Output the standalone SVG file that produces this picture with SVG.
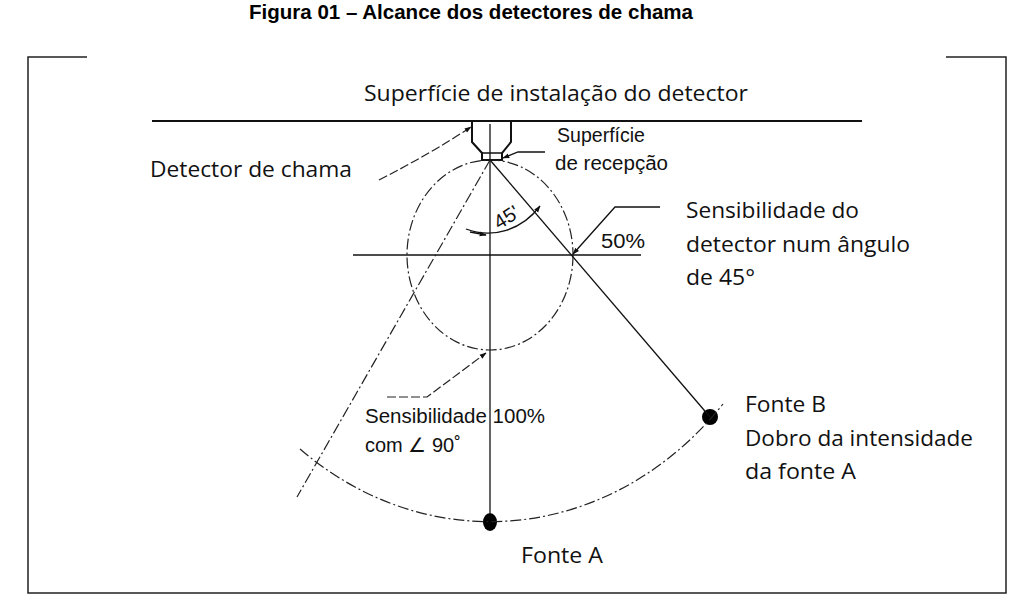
<svg xmlns="http://www.w3.org/2000/svg" width="1019" height="604" viewBox="0 0 1019 604">
<style>
.cal{font-family:"Open Sans","Noto Sans","DejaVu Sans",sans-serif;font-size:21px;fill:#111}
.hel{font-family:"Liberation Sans",Arial,sans-serif;font-size:20px;fill:#111}
.ttl{font-family:"Liberation Sans",Arial,sans-serif;font-size:19.5px;font-weight:bold;fill:#000}
.ln{fill:none;stroke:#111;stroke-width:1.3}
.dd{fill:none;stroke:#222;stroke-width:1.2;stroke-dasharray:11 3 2 3}
.ds{fill:none;stroke:#222;stroke-width:1.2;stroke-dasharray:9 3}
</style>
<defs>
<marker id="ah" viewBox="0 0 10 10" refX="9" refY="5" markerWidth="7" markerHeight="7" orient="auto-start-reverse" markerUnits="userSpaceOnUse">
<path d="M0,1.5 L10,5 L0,8.5 Z" fill="#111"/>
</marker>
</defs>
<rect width="1019" height="604" fill="#fff"/>
<text class="ttl" x="249" y="18.5" textLength="444" lengthAdjust="spacingAndGlyphs">Figura 01 – Alcance dos detectores de chama</text>
<g id="frame" fill="none" stroke="#222" stroke-width="1.5">
<path d="M87,57 L28,57 L28,593 L1006,593 L1006,57 L946,57"/>
</g>
<g id="surface">
<line x1="152" y1="121" x2="862" y2="121" stroke="#111" stroke-width="2.2"/>
<text class="cal" x="364" y="101" textLength="384" lengthAdjust="spacingAndGlyphs">Superfície de instalação do detector</text>
</g>
<g id="detector">
<path d="M472,122 L472,142 L482,153 L482,160 L502,160 L502,153 L511,142 L511,122" fill="none" stroke="#111" stroke-width="2"/>
<line x1="482" y1="153" x2="502" y2="153" stroke="#111" stroke-width="1.5"/>
<text class="cal" x="150" y="177" textLength="202" lengthAdjust="spacingAndGlyphs">Detector de chama</text>
</g>
<g id="receiver">
<text class="hel" x="557" y="142" textLength="88" lengthAdjust="spacingAndGlyphs">Superfície</text>
<text class="hel" x="555" y="170" textLength="113" lengthAdjust="spacingAndGlyphs">de recepção</text>
</g>
<g id="circle">
<ellipse cx="490" cy="255" rx="83" ry="95" class="dd"/>
</g>
<g id="angle45">
<text class="hel" transform="translate(499,230) rotate(-32)" font-size="19">45'</text>
</g>
<g id="sens45">
<text class="hel" x="601" y="248" textLength="44" lengthAdjust="spacingAndGlyphs">50%</text>
<text class="cal" x="686" y="218" textLength="173" lengthAdjust="spacingAndGlyphs">Sensibilidade do</text>
<text class="cal" x="686" y="252" textLength="224" lengthAdjust="spacingAndGlyphs">detector num ângulo</text>
<text class="cal" x="686" y="285" textLength="69" lengthAdjust="spacingAndGlyphs">de 45°</text>
</g>
<g id="sens100">
<text class="hel" x="365" y="423" textLength="180" lengthAdjust="spacingAndGlyphs">Sensibilidade 100%</text>
<text class="hel" x="365" y="452">com ∠ 90˚</text>
</g>
<g id="fonteA">
<ellipse cx="490" cy="522" rx="7" ry="9" fill="#000"/>
<text class="cal" x="521" y="563" textLength="82" lengthAdjust="spacingAndGlyphs">Fonte A</text>
</g>
<g id="fonteB">
<circle cx="710" cy="417" r="8" fill="#000"/>
<text class="cal" x="745" y="412" textLength="81" lengthAdjust="spacingAndGlyphs">Fonte B</text>
<text class="cal" x="745" y="446" textLength="228" lengthAdjust="spacingAndGlyphs">Dobro da intensidade</text>
<text class="cal" x="745" y="479" textLength="111" lengthAdjust="spacingAndGlyphs">da fonte A</text>
</g>
<g id="connectors">
<line x1="490" y1="124" x2="490" y2="513" class="ln" stroke-width="1.1"/>
<line x1="353" y1="255" x2="641" y2="255" class="ln" stroke-width="1.4"/>
<line x1="490" y1="160" x2="710" y2="417" class="ln"/>
<line x1="490" y1="160" x2="297" y2="497" class="dd"/>
<path d="M300,449 A316,362 0 0,0 723,404" class="dd" stroke-dasharray="30 3 3 3"/>
<path d="M540,206 A68,76 0 0,1 466,229" class="ln" marker-start="url(#ah)"/>
<path d="M470,232 L486,235" class="ln" marker-end="url(#ah)"/>
<path d="M379,180 Q430,154 471,127" class="ds" marker-end="url(#ah)"/>
<path d="M545,152 L518,152 L503,158" class="ln" marker-end="url(#ah)"/>
<path d="M660,207 L615,207 L573,254" class="ln" marker-end="url(#ah)"/>
<path d="M387,397 L427,397 L486,353" class="ds" marker-end="url(#ah)"/>
</g>
</svg>
